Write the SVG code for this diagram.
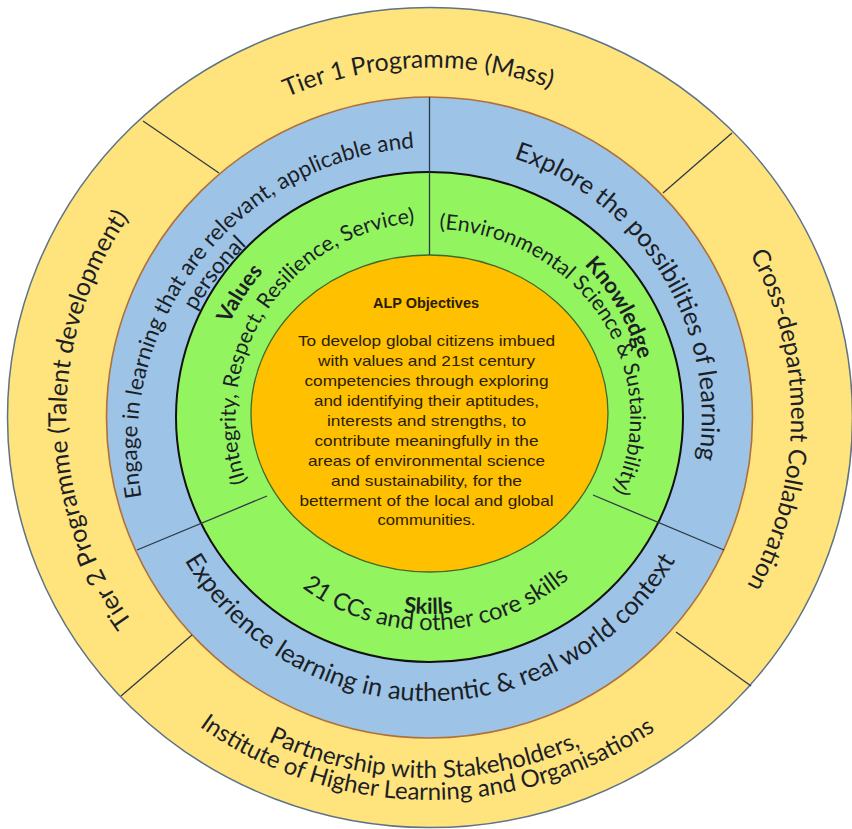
<svg xmlns="http://www.w3.org/2000/svg" width="852" height="829" viewBox="0 0 852 829">
<defs>
<style>
.arc{font-family:Lato,"Open Sans","Liberation Sans",sans-serif;fill:#1c1f26}
.bold{font-weight:bold}
.core{font-family:"Liberation Sans",Arial,sans-serif;fill:#2a1c00;font-size:14.5px;text-anchor:middle}
.div{stroke:#2e3a48;stroke-width:1.3;fill:none}
</style>
<path id="pTier1" d="M77.7,459.5 A355,349 0 1 1 784.5,435.3"/>
<path id="pCross" d="M401.7,66.1 A361,352 0 1 1 395.4,767.4"/>
<path id="pPart1" d="M64,379.3 A368,361 0 1 0 797.1,391.8"/>
<path id="pPart2" d="M39.8,380.3 A392,383 0 1 0 820.8,386.9"/>
<path id="pTier2" d="M464.9,771.4 A364,356 0 1 1 458.6,62.1"/>
<path id="pEngage" d="M273.2,696.8 A299,299 0 1 1 639.9,227.3"/>
<path id="pPersonal" d="M285.7,677.5 A276,276 0 1 1 624.2,244.1"/>
<path id="pExplore" d="M268.2,198.3 A272,272 0 1 1 551.4,660.4"/>
<path id="pExperience" d="M147.1,392.2 A284,284 0 1 0 712.9,392.2"/>
<path id="pValues" d="M326.2,612.1 A221,221 0 1 1 566.1,242.9"/>
<path id="pIntegrity" d="M338.4,589.2 A195,195 0 1 1 550.1,263.3"/>
<path id="pEnv" d="M311,265.9 A200,188 0 1 1 519.2,585.2"/>
<path id="pKnow" d="M305.5,239.2 A217,217 0 1 1 521.7,613.7"/>
<path id="pCCs" d="M217.3,405.9 A213,213 0 1 0 641.4,391"/>
<path id="pSkills" d="M233.9,398.1 A197,197 0 1 0 626.4,401.5"/>
</defs>
<rect width="852" height="829" fill="#ffffff"/>

<g id="ring-outer">
<ellipse cx="430" cy="417.5" rx="422.5" ry="410" fill="#FFE37C" stroke="#5d7386" stroke-width="1.5"/>
</g>
<g id="ring-blue">
<ellipse cx="429.5" cy="417.5" rx="323" ry="320.5" fill="#9DC3E6" stroke="#b0703a" stroke-width="1.6"/>
</g>
<g id="ring-green">
<ellipse cx="429.5" cy="417" rx="253.5" ry="245" fill="#92F45E" stroke="#111111" stroke-width="2"/>
</g>
<g id="core">
<ellipse cx="429.5" cy="413.5" rx="178.5" ry="158.5" fill="#FFC000" stroke="#3f6a2c" stroke-width="1.3"/>
</g>

<g id="connectors">
<line class="div" x1="429.5" y1="97" x2="429.5" y2="255"/>
<line class="div" x1="143" y1="121" x2="219" y2="173"/>
<line class="div" x1="732" y1="133" x2="663" y2="193"/>
<line class="div" x1="121" y1="696" x2="192" y2="635"/>
<line class="div" x1="676" y1="632" x2="751" y2="686"/>
<line class="div" x1="137" y1="550" x2="267" y2="496"/>
<line class="div" x1="593" y1="495" x2="724" y2="550"/>
</g>

<g id="tier1">
<text class="arc" font-size="24.8"><textPath href="#pTier1" startOffset="50%" text-anchor="middle">Tier 1 Programme (Mass)</textPath></text>
</g>
<g id="cross-department">
<text class="arc" font-size="24.5"><textPath href="#pCross" startOffset="50%" text-anchor="middle">Cross-department Collaboration</textPath></text>
</g>
<g id="partnership">
<text class="arc" font-size="24.2"><textPath href="#pPart1" startOffset="50%" text-anchor="middle">Partnership with Stakeholders,</textPath></text>
<text class="arc" font-size="24"><textPath href="#pPart2" startOffset="50%" text-anchor="middle">Institute of Higher Learning and Organisations</textPath></text>
</g>
<g id="tier2">
<text class="arc" font-size="25"><textPath href="#pTier2" startOffset="50%" text-anchor="middle">Tier 2 Programme (Talent development)</textPath></text>
</g>
<g id="engage">
<text class="arc" font-size="22.5"><textPath href="#pEngage" startOffset="50%" text-anchor="middle">Engage in learning that are relevant, applicable and</textPath></text>
<text class="arc" font-size="22.5"><textPath href="#pPersonal" startOffset="50%" text-anchor="middle">personal</textPath></text>
</g>
<g id="explore">
<text class="arc" font-size="25.2"><textPath href="#pExplore" startOffset="50%" text-anchor="middle">Explore the possibilities of learning</textPath></text>
</g>
<g id="experience">
<text class="arc" font-size="25.5"><textPath href="#pExperience" startOffset="50%" text-anchor="middle">Experience learning in authentic &amp; real world context</textPath></text>
</g>
<g id="values">
<text class="arc bold" font-size="21.5"><textPath href="#pValues" startOffset="50%" text-anchor="middle">Values</textPath></text>
<text class="arc" font-size="21.4"><textPath href="#pIntegrity" startOffset="50%" text-anchor="middle">(Integrity, Respect, Resilience, Service)</textPath></text>
</g>
<g id="knowledge">
<text class="arc bold" font-size="22"><textPath href="#pKnow" startOffset="50%" text-anchor="middle">Knowledge</textPath></text>
<text class="arc" font-size="21.3"><textPath href="#pEnv" startOffset="50%" text-anchor="middle">(Environmental Science &amp; Sustainability)</textPath></text>
</g>
<g id="skills">
<text class="arc bold" font-size="22"><textPath href="#pSkills" startOffset="50%" text-anchor="middle">Skills</textPath></text>
<text class="arc" font-size="23.8"><textPath href="#pCCs" startOffset="50%" text-anchor="middle">21 CCs and other core skills</textPath></text>
</g>

<g id="objectives">
<text class="core" x="426" y="308" font-size="12.5" font-weight="bold" textLength="106" lengthAdjust="spacingAndGlyphs">ALP Objectives</text>
<text class="core" x="426.5" y="346" textLength="257" lengthAdjust="spacingAndGlyphs">To develop global citizens imbued</text>
<text class="core" x="426.5" y="366" textLength="217" lengthAdjust="spacingAndGlyphs">with values and 21st century</text>
<text class="core" x="426.5" y="386" textLength="244" lengthAdjust="spacingAndGlyphs">competencies through exploring</text>
<text class="core" x="426.5" y="406" textLength="225" lengthAdjust="spacingAndGlyphs">and identifying their aptitudes,</text>
<text class="core" x="426.5" y="426" textLength="199" lengthAdjust="spacingAndGlyphs">interests and strengths, to</text>
<text class="core" x="426.5" y="446" textLength="224" lengthAdjust="spacingAndGlyphs">contribute meaningfully in the</text>
<text class="core" x="426.5" y="466" textLength="237" lengthAdjust="spacingAndGlyphs">areas of environmental science</text>
<text class="core" x="426.5" y="486" textLength="191" lengthAdjust="spacingAndGlyphs">and sustainability, for the</text>
<text class="core" x="426.5" y="506" textLength="254" lengthAdjust="spacingAndGlyphs">betterment of the local and global</text>
<text class="core" x="426.5" y="525" textLength="98" lengthAdjust="spacingAndGlyphs">communities.</text>
</g>
</svg>
